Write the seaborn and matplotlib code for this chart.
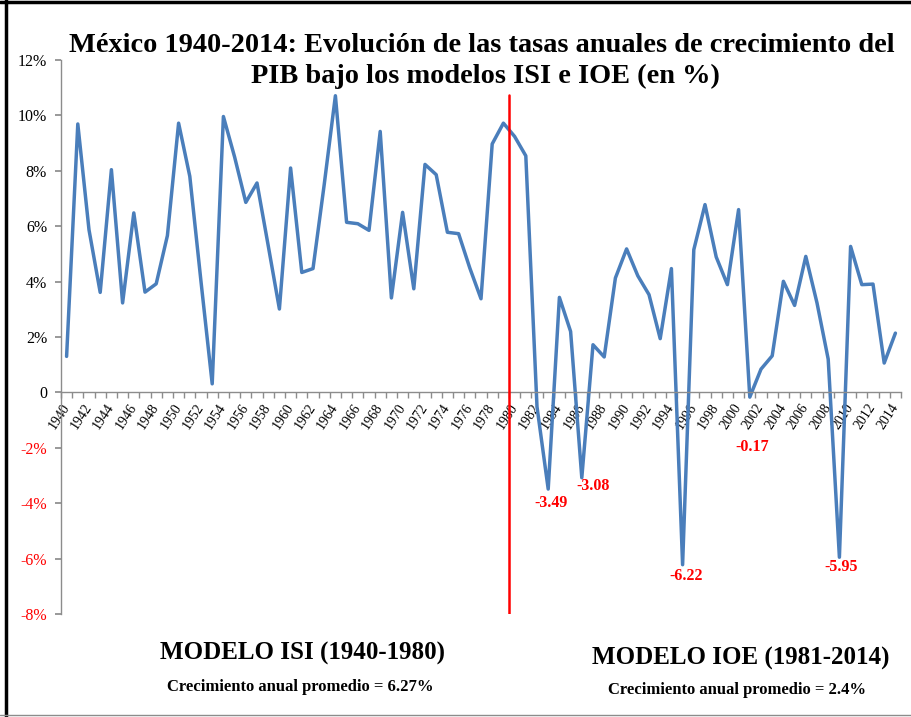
import numpy as np
import pandas as pd
import matplotlib
matplotlib.use("Agg")
import matplotlib.pyplot as plt
import seaborn as sns
from matplotlib.lines import Line2D
from matplotlib.ticker import FixedLocator

years = list(range(1940, 2015))
growth = [1.30, 9.69, 5.87, 3.61, 8.04, 3.23, 6.48, 3.62, 3.92, 5.66,
          9.72, 7.80, 4.00, 0.31, 9.96, 8.50, 6.86, 7.56, 5.30, 3.01,
          8.10, 4.33, 4.47, 7.50, 10.71, 6.14, 6.09, 5.85, 9.42, 3.41,
          6.50, 3.74, 8.23, 7.86, 5.78, 5.73, 4.49, 3.38, 8.97, 9.72,
          9.24, 8.54, -0.52, -3.49, 3.43, 2.20, -3.08, 1.72, 1.28, 4.13,
          5.18, 4.21, 3.53, 1.94, 4.47, -6.22, 5.15, 6.78, 4.89, 3.89,
          6.60, -0.17, 0.84, 1.32, 4.01, 3.14, 4.91, 3.23, 1.20, -5.95,
          5.27, 3.89, 3.91, 1.06, 2.14]
annot_years = [1983, 1986, 1995, 2001, 2009]
annot_labels = ["-3.49", "-3.08", "-6.22", "-0.17", "-5.95"]
y_ticks = [-8, -6, -4, -2, 0, 2, 4, 6, 8, 10, 12]
y_tick_labels = ["-8%", "-6%", "-4%", "-2%", "0", "2%", "4%", "6%", "8%", "10%", "12%"]
x_tick_years = list(range(1940, 2015, 2))
split_year = 1979.5
split_top = 10.75

title_line1 = "México 1940-2014: Evolución de las tasas anuales de crecimiento del"
title_line2 = "PIB bajo los modelos ISI e IOE (en %)"
model1 = "MODELO ISI (1940-1980)"
model1_sub = "Crecimiento anual promedio = 6.27%"
model2 = "MODELO IOE (1981-2014)"
model2_sub = "Crecimiento anual promedio = 2.4%"

sns.set_theme(style="white")
plt.rcParams["font.family"] = ["Liberation Serif", "DejaVu Serif"]
plt.rcParams["text.color"] = "black"
plt.rcParams["xtick.color"] = "black"
plt.rcParams["ytick.color"] = "black"

df = pd.DataFrame({"year": years, "growth": growth})

W, H = 912, 717
fig = plt.figure(figsize=(W / 100, H / 100), dpi=100)
ax = fig.add_axes([61 / W, 1 - 614 / H, (901 - 61) / W, (614 - 60) / H])

sns.lineplot(data=df, x="year", y="growth", ax=ax, color="#4A7EBB", linewidth=2.5)

ax.set_xlim(1939.5, 2014.5)
ax.set_ylim(-8, 12)
ax.set_xlabel("")
ax.set_ylabel("")

# split line
ax.plot([split_year, split_year], [-8, split_top], color="red", linewidth=1.8, zorder=3)

# spines
for s in ["top", "right"]:
    ax.spines[s].set_visible(False)
ax.spines["bottom"].set_position(("data", 0))
ax.spines["left"].set_color("#8c8c8c")
ax.spines["bottom"].set_color("#8c8c8c")
ax.spines["left"].set_linewidth(1.0)
ax.spines["bottom"].set_linewidth(1.0)

# y ticks
ax.yaxis.set_major_locator(FixedLocator(y_ticks))
ax.set_yticklabels(y_tick_labels)
ax.tick_params(axis="y", which="major", direction="out", length=4, color="#8c8c8c",
               labelcolor="black", labelsize=11.5, pad=6, left=True)
for lbl, v in zip(ax.get_yticklabels(), y_ticks):
    lbl.set_color("red" if v < 0 else "black")

# x ticks: labels at even years, tick marks at category boundaries
ax.xaxis.set_major_locator(FixedLocator(x_tick_years))
ax.set_xticklabels([str(y) for y in x_tick_years])
ax.xaxis.set_minor_locator(FixedLocator(np.arange(1939.5, 2015, 1.0)))
ax.tick_params(axis="x", which="major", length=0, labelsize=10, pad=9, labelcolor="black")
ax.tick_params(axis="x", which="minor", length=4, color="#8c8c8c", direction="out", bottom=True)
for lbl in ax.get_xticklabels():
    lbl.set_rotation(57)
    lbl.set_rotation_mode("anchor")
    lbl.set_ha("right")
    lbl.set_va("center")

ax.grid(False)

# annotations
offsets = {1983: (3, -14), 1986: (11, -8), 1995: (4, -11), 2001: (2, -50), 2009: (2, -10)}
for yr, lab in zip(annot_years, annot_labels):
    val = growth[years.index(yr)]
    ax.annotate(lab, xy=(yr, val), xytext=offsets[yr], textcoords="offset pixels",
                ha="center", va="center", color="red", fontsize=11.5, fontweight="bold")

# title (two lines)
fig.text(482 / W, 1 - 45 / H, title_line1, ha="center", va="center",
         fontsize=20.4, fontweight="bold", color="black")
fig.text(485 / W, 1 - 76 / H, title_line2, ha="center", va="center",
         fontsize=20.4, fontweight="bold", color="black")

# bottom texts
fig.text(303 / W, 1 - 653 / H, model1, ha="center", va="center", fontsize=18, fontweight="bold", color="black")
fig.text(300 / W, 1 - 687 / H, model1_sub, ha="center", va="center", fontsize=12, fontweight="bold", color="black")
fig.text(741 / W, 1 - 658 / H, model2, ha="center", va="center", fontsize=18, fontweight="bold", color="black")
fig.text(737 / W, 1 - 690 / H, model2_sub, ha="center", va="center", fontsize=12, fontweight="bold", color="black")

# frame
fig.add_artist(Line2D([6 / W, 6 / W], [0, 1], color="black", linewidth=2.5, transform=fig.transFigure))
fig.add_artist(Line2D([0, 1], [1 - 2 / H, 1 - 2 / H], color="black", linewidth=2.5, transform=fig.transFigure))
fig.add_artist(Line2D([0, 1], [1 - 715 / H, 1 - 715 / H], color="#8c8c8c", linewidth=1.0, transform=fig.transFigure))

fig.savefig("out.png", dpi=100)
